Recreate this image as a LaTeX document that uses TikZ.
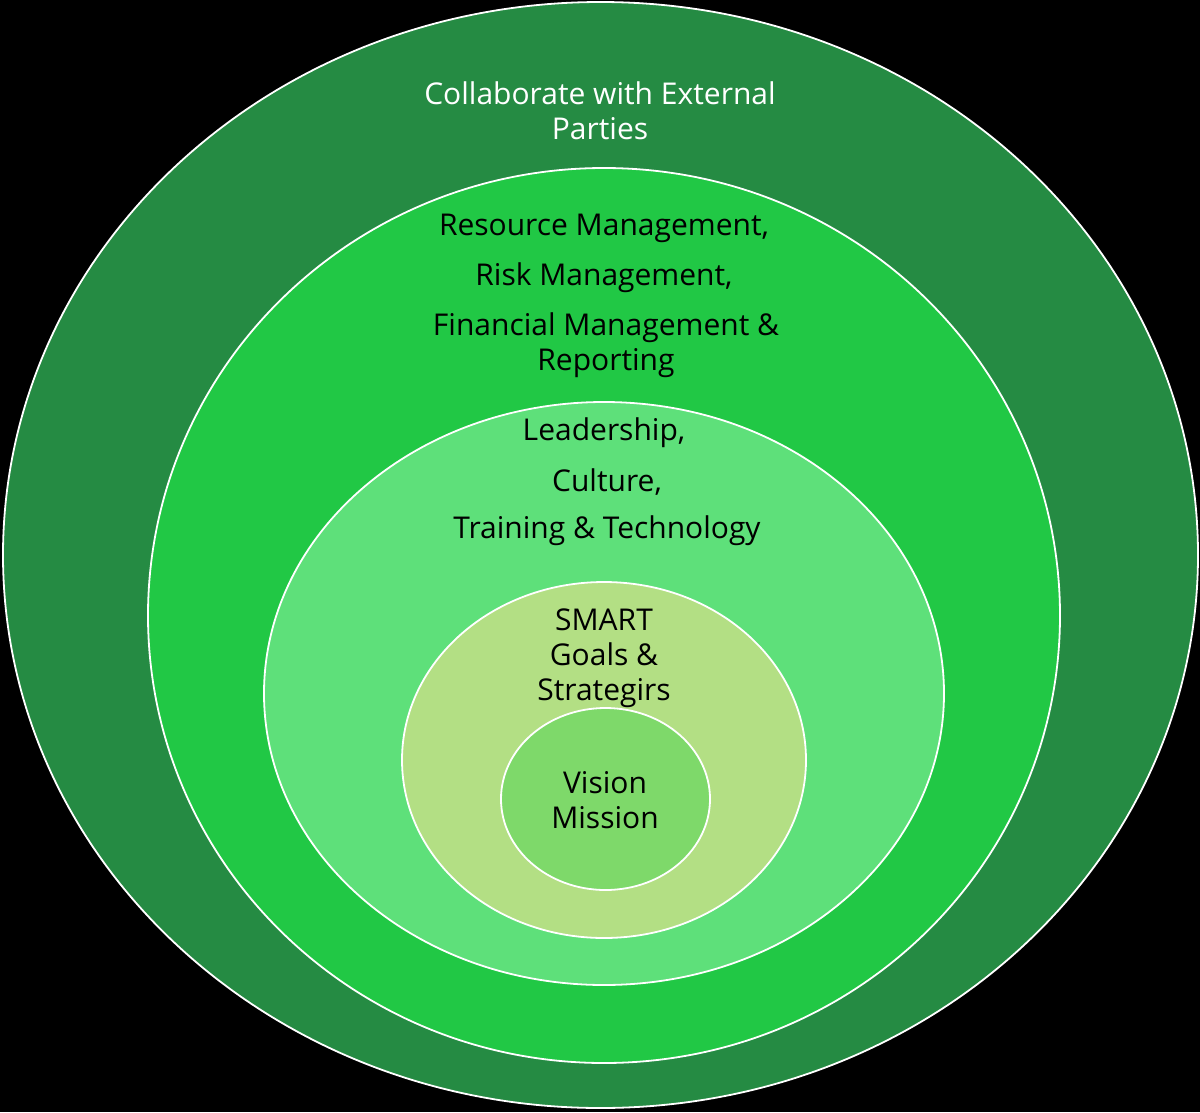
\documentclass[tikz,border=0pt]{standalone}
\usepackage{fontspec}
\setmainfont{Open Sans}
\usetikzlibrary{shapes.geometric}
\definecolor{ringA}{RGB}{37,139,67}
\definecolor{ringB}{RGB}{33,200,69}
\definecolor{ringC}{RGB}{94,224,122}
\definecolor{ringD}{RGB}{179,223,132}
\definecolor{ringE}{RGB}{126,217,106}
\tikzset{
  ring/.style={ellipse, draw=white, line width=1.8pt, inner sep=0pt},
  lbl/.style={align=center, font=\fontsize{30}{35}\selectfont, text=black, inner sep=0pt},
}
\begin{document}
\begin{tikzpicture}[x=1pt,y=-1pt]
\fill[black] (0,0) rectangle (1200,1112);
\useasboundingbox (0,0) rectangle (1200,1112);
\node[ring, fill=ringA, minimum width=1195pt, minimum height=1106pt] (e1) at (600.5,555) {};
\node[ring, fill=ringB, minimum width=912pt, minimum height=895pt] (e2) at (604,615.5) {};
\node[ring, fill=ringC, minimum width=680pt, minimum height=583pt] (e3) at (604,693.5) {};
\node[ring, fill=ringD, minimum width=404pt, minimum height=356pt] (e4) at (604,760) {};
\node[ring, fill=ringE, minimum width=209pt, minimum height=182pt] (e5) at (605.5,799) {};

\node[lbl, text=white] (t1) at (600,111) {Collaborate with External\\Parties};
\node[lbl] (t2a) at (604,228) {Resource Management,};
\node[lbl] (t2b) at (604,278) {Risk Management,};
\node[lbl] (t2c) at (606,345) {Financial Management \&\\Reporting};
\node[lbl] (t3a) at (604,433) {Leadership,};
\node[lbl] (t3b) at (607,482) {Culture,};
\node[lbl] (t3c) at (607,531) {Training \& Technology};
\node[lbl] (t4) at (604,658) {SMART\\Goals \&\\Strategirs};
\node[lbl] (t5) at (605,800) {Vision\\Mission};
\end{tikzpicture}
\end{document}
